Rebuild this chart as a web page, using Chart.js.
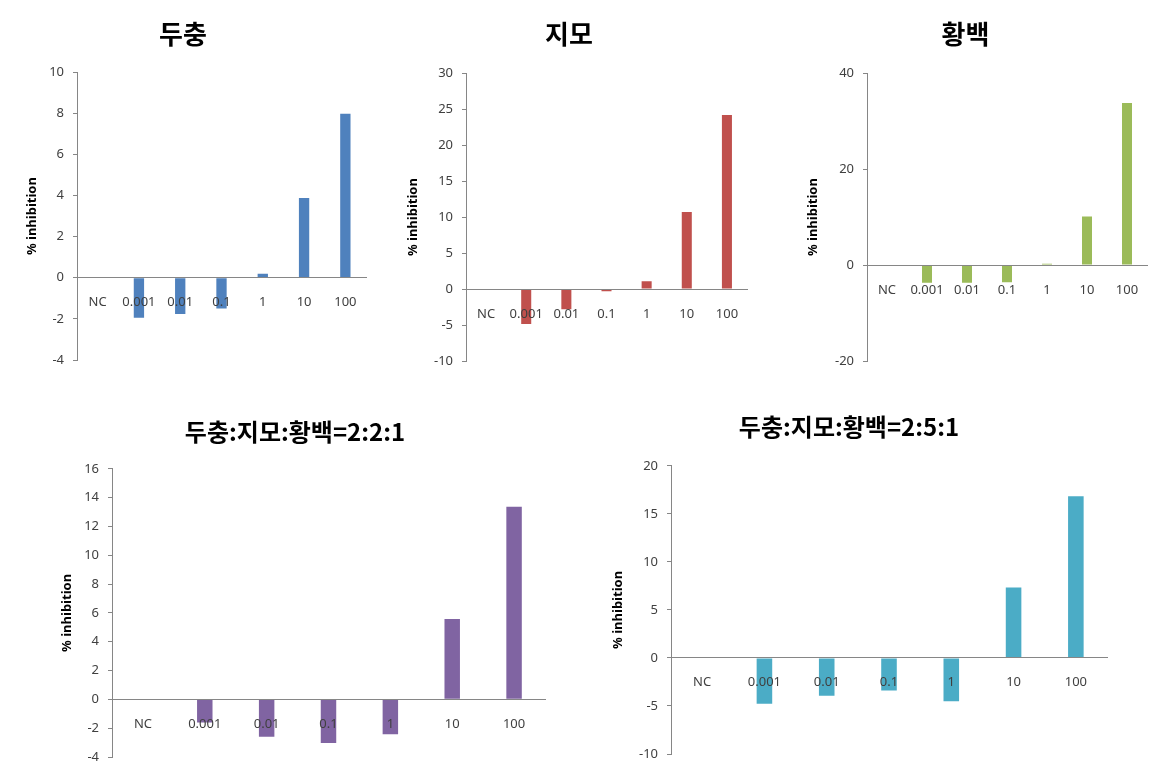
<!DOCTYPE html>
<html>
<head>
<meta charset="utf-8">
<script src="https://cdn.jsdelivr.net/npm/chart.js@4.4.0/dist/chart.umd.min.js"></script>
<style>
  body { margin: 0; background: #fff; width: 1163px; height: 776px; position: relative; overflow: hidden; }
  canvas { position: absolute; }
</style>
</head>
<body>
<canvas id="c1" width="377" height="380" style="left:0px;top:0px"></canvas>
<canvas id="c2" width="366" height="381" style="left:391px;top:0px"></canvas>
<canvas id="c3" width="376" height="381" style="left:784px;top:0px"></canvas>
<canvas id="c4" width="510" height="381" style="left:45px;top:395px"></canvas>
<canvas id="c5" width="526" height="386" style="left:591px;top:390px"></canvas>
<script>
var categories = ["NC", "0.001", "0.01", "0.1", "1", "10", "100"];

var duchung = [0, -1.94, -1.76, -1.5, 0.2, 3.88, 7.98];
var jimo = [0, -4.87, -2.8, -0.3, 1.07, 10.7, 24.2];
var hwangbaek = [0, -3.7, -3.7, -3.6, 0.3, 10.1, 33.8];
var mix221 = [0, -1.6, -2.6, -3.02, -2.42, 5.57, 13.36];
var mix251 = [0, -4.77, -3.93, -3.38, -4.52, 7.34, 16.84];

var titles = ["두충", "지모", "황백", "두충:지모:황백=2:2:1", "두충:지모:황백=2:5:1"];
var colors = ["#4F81BD", "#C0504D", "#9BBB59", "#8064A2", "#4BACC6"];

var axisGrey = "#868686";
var tickFont = { family: "'Noto Sans', 'DejaVu Sans', sans-serif", size: 13 };

function makeChart(id, title, values, color, o) {
    var ctx = document.getElementById(id);
    return new Chart(ctx, {
        type: "bar",
        data: {
            labels: categories,
            datasets: [{
                data: values,
                backgroundColor: color,
                borderWidth: 0,
                barPercentage: 0.25,
                categoryPercentage: 1
            }]
        },
        options: {
            responsive: false,
            animation: false,
            devicePixelRatio: 1,
            layout: { padding: { left: 0, right: o.padRight, top: 0, bottom: o.padBottom } },
            plugins: {
                legend: { display: false },
                tooltip: { enabled: false },
                title: {
                    display: true,
                    text: title,
                    color: "#000",
                    font: { family: "'Noto Sans CJK KR', sans-serif", size: o.titleSize, weight: "bold" },
                    padding: { top: o.titleTop, bottom: o.titleBottom }
                }
            },
            scales: {
                x: {
                    position: { y: 0 },
                    grid: { display: false },
                    border: { display: true, color: axisGrey, width: 1, z: 1 },
                    ticks: { color: "#404040", font: tickFont, padding: 9, maxRotation: 0, autoSkip: false, z: 1 },
                    afterFit: function(scale) { scale.height = 0; }
                },
                y: {
                    min: o.min,
                    max: o.max,
                    grid: { display: true, drawOnChartArea: false, drawTicks: true, tickLength: 4, color: axisGrey },
                    border: { display: true, color: axisGrey, width: 1 },
                    ticks: { stepSize: o.step, color: "#404040", font: tickFont, padding: 9 },
                    title: {
                        display: true,
                        text: "% inhibition",
                        color: "#000",
                        font: { family: "'Noto Sans', sans-serif", size: 13, weight: "bold" },
                        padding: { top: o.labelPad, bottom: 0 }
                    },
                    afterFit: function(scale) { scale.width = o.axisWidth; }
                }
            }
        }
    });
}

makeChart("c1", titles[0], duchung, colors[0], {
    min: -4, max: 10, step: 2, axisWidth: 77, labelPad: 24, padRight: 11, padBottom: 20,
    titleSize: 26, titleTop: 19, titleBottom: 22
});
makeChart("c2", titles[1], jimo, colors[1], {
    min: -10, max: 30, step: 5, axisWidth: 75, labelPad: 14, padRight: 10, padBottom: 20,
    titleSize: 26, titleTop: 19, titleBottom: 23
});
makeChart("c3", titles[2], hwangbaek, colors[2], {
    min: -20, max: 40, step: 20, axisWidth: 83, labelPad: 21, padRight: 13, padBottom: 20,
    titleSize: 26, titleTop: 19, titleBottom: 23
});
makeChart("c4", titles[3], mix221, colors[3], {
    min: -4, max: 16, step: 2, axisWidth: 67, labelPad: 14, padRight: 10, padBottom: 19,
    titleSize: 24, titleTop: 22, titleBottom: 23
});
makeChart("c5", titles[4], mix251, colors[4], {
    min: -10, max: 20, step: 5, axisWidth: 80, labelPad: 19, padRight: 10, padBottom: 22,
    titleSize: 24, titleTop: 22, titleBottom: 25
});
</script>
</body>
</html>
